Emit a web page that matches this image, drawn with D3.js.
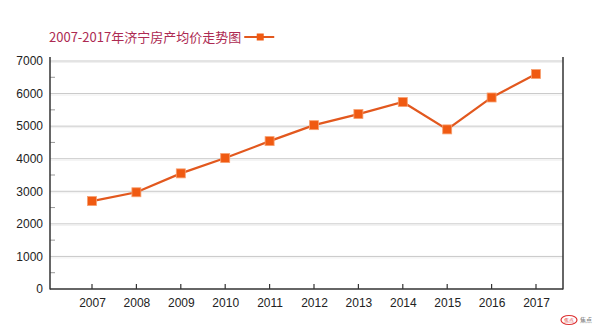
<!DOCTYPE html>
<html><head><meta charset="utf-8">
<script src="https://cdn.jsdelivr.net/npm/d3@7"></script>
<style>body{margin:0;background:#fff}svg{display:block}</style>
</head><body>
<svg id="c" width="600" height="328"></svg>
<script>
const title = "2007-2017年济宁房产均价走势图";
const years = ["2007","2008","2009","2010","2011","2012","2013","2014","2015","2016","2017"];
const prices = [2700, 2970, 3550, 4020, 4540, 5030, 5370, 5740, 4900, 5880, 6600];
const yTicks = [0, 1000, 2000, 3000, 4000, 5000, 6000, 7000];
const yMinor = [500, 1500, 2500, 3500, 4500, 5500, 6500];

const svg = d3.select("#c");
const L = 50, R = 563, T = 61, B = 289;
const x = d3.scalePoint().domain(years).range([92, 536]);
const y = d3.scaleLinear().domain([0, 7000]).range([B, T]);
const font = "'Liberation Sans', Arial, sans-serif";
const lineColor = "#e2581e", markColor = "#f05a12";

// gridlines
svg.append("g").selectAll("line").data(yTicks.filter(d => d > 0)).join("line")
  .attr("x1", L).attr("x2", R).attr("y1", d => y(d)).attr("y2", d => y(d))
  .attr("stroke", "#c8c8c8").attr("stroke-width", 1);
svg.append("g").selectAll("line").data(yTicks.filter(d => d > 0)).join("line")
  .attr("x1", L).attr("x2", R).attr("y1", d => y(d) + 1.5).attr("y2", d => y(d) + 1.5)
  .attr("stroke", "#f0f0f0").attr("stroke-width", 1);

// minor ticks on left axis
svg.append("g").selectAll("line").data(yMinor).join("line")
  .attr("x1", L).attr("x2", L + 5).attr("y1", d => y(d)).attr("y2", d => y(d))
  .attr("stroke", "#999").attr("stroke-width", 1);

// y axis
const yAxis = d3.axisLeft(y).tickValues(yTicks).tickFormat(d3.format("d")).tickSize(0).tickPadding(7);
const gy = svg.append("g").attr("transform", `translate(${L},0)`).call(yAxis);
gy.select(".domain").remove();
gy.selectAll("text").attr("font-family", font).attr("font-size", 12).attr("fill", "#222");

// x axis
const xAxis = d3.axisBottom(x).tickSize(0).tickPadding(9);
const gx = svg.append("g").attr("transform", `translate(0,${B})`).call(xAxis);
gx.select(".domain").remove();
gx.selectAll("text").attr("font-family", font).attr("font-size", 12).attr("fill", "#222");
svg.append("g").selectAll("line").data(years).join("line")
  .attr("x1", d => x(d)).attr("x2", d => x(d)).attr("y1", B - 5).attr("y2", B)
  .attr("stroke", "#333").attr("stroke-width", 1.2);

// frame lines
svg.append("line").attr("x1", L).attr("x2", L).attr("y1", 57).attr("y2", B + 0.5)
  .attr("stroke", "#333").attr("stroke-width", 1.5);
svg.append("line").attr("x1", R).attr("x2", R).attr("y1", 57).attr("y2", B + 0.5)
  .attr("stroke", "#333").attr("stroke-width", 1.5);
svg.append("line").attr("x1", L).attr("x2", R).attr("y1", B).attr("y2", B)
  .attr("stroke", "#333").attr("stroke-width", 1.5);

// line + markers
const data = years.map((yr, i) => ({yr, v: prices[i]}));
svg.append("path").datum(data)
  .attr("d", d3.line().x(d => x(d.yr)).y(d => y(d.v)))
  .attr("fill", "none").attr("stroke", lineColor).attr("stroke-width", 2.2);
const ms = 9;
svg.append("g").selectAll("rect").data(data).join("rect")
  .attr("x", d => x(d.yr) - ms / 2).attr("y", d => y(d.v) - ms / 2)
  .attr("width", ms).attr("height", ms)
  .attr("fill", markColor).attr("stroke", "#f7a070").attr("stroke-width", 0.8);

// title + legend
const tt = svg.append("text").attr("x", 49).attr("y", 42).text(title)
  .attr("font-family", "'Noto Sans CJK SC', sans-serif").attr("font-size", 13)
  .attr("fill", "#ad2a52");
const tw = tt.node().getComputedTextLength();
const lx = 49 + tw + 3;
svg.append("line").attr("x1", lx).attr("x2", lx + 30).attr("y1", 37).attr("y2", 37)
  .attr("stroke", lineColor).attr("stroke-width", 2);
svg.append("rect").attr("x", lx + 16 - 3.5).attr("y", 37 - 3.5).attr("width", 7).attr("height", 7)
  .attr("fill", markColor);

// watermark
svg.append("ellipse").attr("cx", 569).attr("cy", 320).attr("rx", 8).attr("ry", 4.5)
  .attr("fill", "none").attr("stroke", "#d33").attr("stroke-width", 1.2);
svg.append("text").attr("x", 569).attr("y", 322).attr("text-anchor", "middle")
  .attr("font-family", font).attr("font-size", 5).attr("fill", "#d33").text("焦点");
svg.append("text").attr("x", 580).attr("y", 322)
  .attr("font-family", "'Noto Sans CJK SC', sans-serif").attr("font-size", 6).attr("fill", "#777").text("焦点");
</script>
</body></html>
